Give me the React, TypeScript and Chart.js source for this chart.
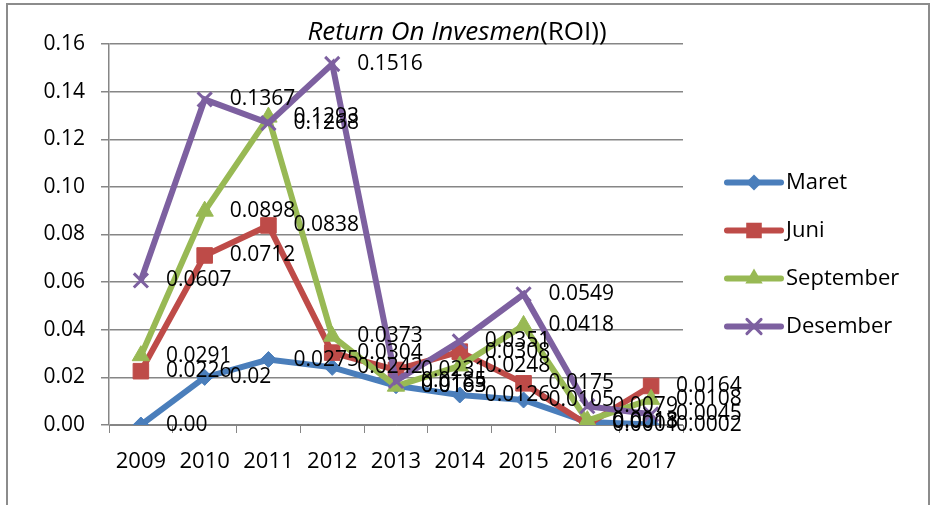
import React, { useEffect, useRef } from "react";
import { Chart, registerables } from "chart.js";

Chart.register(...registerables);

const years = ["2009", "2010", "2011", "2012", "2013", "2014", "2015", "2016", "2017"];
const maret = [0.0, 0.02, 0.0275, 0.0242, 0.0165, 0.0126, 0.0105, 0.0013, 0.0002];
const juni = [0.0226, 0.0712, 0.0838, 0.0304, 0.0231, 0.0308, 0.0175, 0.0001, 0.0164];
const september = [0.0291, 0.0898, 0.1293, 0.0373, 0.0163, 0.0248, 0.0418, 0.0018, 0.0108];
const desember = [0.0607, 0.1367, 0.1268, 0.1516, 0.0185, 0.0351, 0.0549, 0.0079, 0.0045];
const seriesNames = ["Maret", "Juni", "September", "Desember"];
const yTicks = [0, 0.02, 0.04, 0.06, 0.08, 0.1, 0.12, 0.14, 0.16];
const titleItalic = "Return On Invesmen";
const titleNormal = "(ROI))";

const FONT = "'Open Sans', sans-serif";
const colors = ["#4A7EBB", "#BE4B48", "#98B954", "#7D60A0"];
const styles = ["rectRot", "rect", "triangle", "crossRot"];
const radii = [8, 11, 10, 10];

function fmt(v: number) {
  return v === 0 ? "0.00" : String(v);
}

function drawMarker(ctx: CanvasRenderingContext2D, style: string, x: number, y: number, r: number, color: string) {
  ctx.save();
  ctx.fillStyle = color;
  ctx.strokeStyle = color;
  ctx.beginPath();
  if (style === "rectRot") {
    ctx.moveTo(x, y - r);
    ctx.lineTo(x + r, y);
    ctx.lineTo(x, y + r);
    ctx.lineTo(x - r, y);
    ctx.closePath();
    ctx.fill();
  } else if (style === "rect") {
    const s = r * Math.SQRT1_2;
    ctx.rect(x - s, y - s, 2 * s, 2 * s);
    ctx.fill();
  } else if (style === "triangle") {
    ctx.moveTo(x, y - r);
    ctx.lineTo(x + r * 0.866, y + r * 0.5);
    ctx.lineTo(x - r * 0.866, y + r * 0.5);
    ctx.closePath();
    ctx.fill();
  } else {
    const s = r * Math.SQRT1_2;
    ctx.lineWidth = 3;
    ctx.moveTo(x - s, y - s);
    ctx.lineTo(x + s, y + s);
    ctx.moveTo(x + s, y - s);
    ctx.lineTo(x - s, y + s);
    ctx.stroke();
  }
  ctx.restore();
}

const overlay = {
  id: "overlay",
  beforeDraw(chart: any) {
    const ctx = chart.ctx as CanvasRenderingContext2D;
    ctx.save();
    ctx.fillStyle = "#ffffff";
    ctx.fillRect(0, 0, chart.width, chart.height);
    ctx.strokeStyle = "#8c8c8c";
    ctx.lineWidth = 2;
    ctx.strokeRect(7, 4, chart.width - 10, chart.height + 20);
    ctx.restore();
  },
  afterDatasetsDraw(chart: any) {
    const ctx = chart.ctx as CanvasRenderingContext2D;
    ctx.save();
    ctx.font = `21px ${FONT}`;
    ctx.fillStyle = "#000000";
    ctx.textAlign = "left";
    ctx.textBaseline = "middle";
    chart.data.datasets.forEach((ds: any, i: number) => {
      const meta = chart.getDatasetMeta(i);
      meta.data.forEach((pt: any, j: number) => {
        ctx.fillText(fmt(ds.data[j]), pt.x + 25, pt.y);
      });
    });
    ctx.restore();
  },
  afterDraw(chart: any) {
    const ctx = chart.ctx as CanvasRenderingContext2D;
    const area = chart.chartArea;
    ctx.save();
    // title
    ctx.fillStyle = "#000000";
    ctx.textBaseline = "alphabetic";
    ctx.textAlign = "left";
    const tf = 26;
    ctx.font = `italic ${tf}px ${FONT}`;
    const w1 = ctx.measureText(titleItalic).width;
    ctx.font = `${tf}px ${FONT}`;
    const w2 = ctx.measureText(titleNormal).width;
    const cx = (area.left + area.right) / 2 + 61;
    const x = cx - (w1 + w2) / 2;
    ctx.font = `italic ${tf}px ${FONT}`;
    ctx.fillText(titleItalic, x, area.top - 4);
    ctx.font = `${tf}px ${FONT}`;
    ctx.fillText(titleNormal, x + w1, area.top - 4);
    // legend
    const lx = area.right + 44;
    const cy = chart.height / 2 + 2;
    chart.data.datasets.forEach((ds: any, i: number) => {
      const y = cy + (i - 1.5) * 48;
      ctx.strokeStyle = colors[i];
      ctx.lineWidth = 6;
      ctx.lineCap = "round";
      ctx.beginPath();
      ctx.moveTo(lx, y);
      ctx.lineTo(lx + 54, y);
      ctx.stroke();
      drawMarker(ctx, styles[i], lx + 27, y, radii[i], colors[i]);
      ctx.fillStyle = "#000000";
      ctx.font = `22px ${FONT}`;
      ctx.textBaseline = "middle";
      ctx.textAlign = "left";
      ctx.fillText(ds.label, lx + 59, y);
    });
    ctx.restore();
  },
};

export default function App() {
  const ref = useRef<HTMLCanvasElement | null>(null);
  useEffect(() => {
    if (!ref.current) return;
    const seriesData = [maret, juni, september, desember];
    const chart = new Chart(ref.current, {
      type: "line",
      data: {
        labels: years,
        datasets: seriesNames.map((name, i) => ({
          label: name,
          data: seriesData[i],
          borderColor: colors[i],
          backgroundColor: colors[i],
          borderWidth: 6,
          pointStyle: styles[i] as any,
          pointRadius: radii[i],
          pointBorderWidth: i === 3 ? 3 : 1,
          pointBackgroundColor: colors[i],
          pointBorderColor: colors[i],
          tension: 0,
          fill: false,
          order: 3 - i,
        })),
      },
      options: {
        responsive: false,
        animation: false,
        layout: { padding: { left: 0, top: 44, right: 249, bottom: 0 } },
        plugins: {
          legend: { display: false },
          title: { display: false },
          tooltip: { enabled: false },
        },
        scales: {
          x: {
            offset: true,
            grid: {
              offset: true,
              drawOnChartArea: false,
              drawTicks: true,
              tickLength: 8,
              color: "#868686",
            },
            border: { color: "#868686", width: 1 },
            ticks: {
              color: "#000000",
              font: { family: FONT, size: 22 },
              padding: 16,
              maxRotation: 0,
            },
            afterFit: (s: any) => {
              s.height = 80;
            },
          },
          y: {
            min: 0,
            max: 0.16,
            afterBuildTicks: (s: any) => {
              s.ticks = yTicks.map((v) => ({ value: v }));
            },
            grid: {
              color: "#868686",
              lineWidth: 1.5,
              drawTicks: true,
              tickLength: 8,
            },
            border: { color: "#868686", width: 1.5 },
            ticks: {
              color: "#000000",
              font: { family: FONT, size: 21 },
              padding: 16,
              callback: (v: any) => Number(v).toFixed(2),
            },
            afterFit: (s: any) => {
              s.width = 109;
            },
          },
        },
      },
      plugins: [overlay],
    });
    return () => chart.destroy();
  }, []);
  return (
    <div style={{ position: "fixed", left: 0, top: 0, width: 932, height: 505 }}>
      <canvas ref={ref} width={932} height={505} style={{ width: 932, height: 505, display: "block" }} />
    </div>
  );
}
